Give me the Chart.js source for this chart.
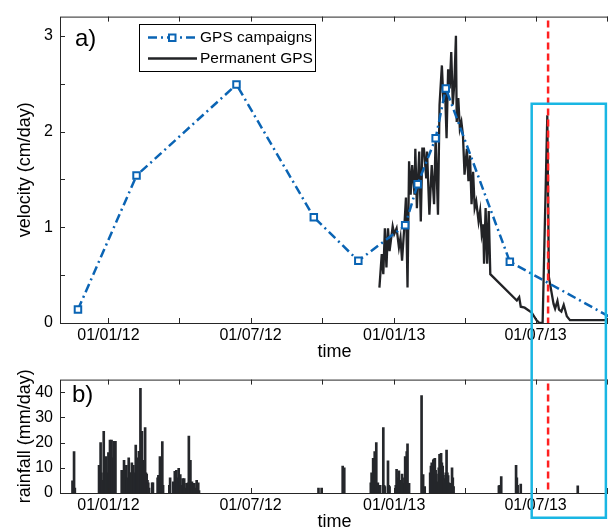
<!DOCTYPE html>
<html>
<head>
<meta charset="utf-8">
<script src="https://cdn.jsdelivr.net/npm/chart.js@4.4.1/dist/chart.umd.min.js"></script>
<style>
  html, body { margin: 0; padding: 0; background: #fff; overflow: hidden; }
  #wrap { position: relative; width: 608px; height: 531px; overflow: hidden; }
  canvas { position: absolute; left: 0; }
  #topChart { top: 0; }
  #rainChart { top: 363px; }
</style>
</head>
<body>
<div id="wrap">
  <canvas id="topChart" width="612" height="363"></canvas>
  <canvas id="rainChart" width="612" height="170"></canvas>
</div>
<script>
// all x values are days counted from 01/01/12
var xMin = -62
var xMax = 641
var xTickDays = [0, 91, 182, 274, 366, 456, 547, 639]
var xTickLabels = ['01/01/12', '', '01/07/12', '', '01/01/13', '', '01/07/13', '']
var velTicks = [0, 0.5, 1, 1.5, 2, 2.5, 3]
var rainTicks = [0, 10, 20, 30, 40]

// GPS campaigns
var campDays = [-39, 36, 164, 263, 320, 380, 396, 419, 432, 514, 645]
var campVel = [0.14, 1.54, 2.49, 1.105, 0.65, 1.02, 1.45, 1.93, 2.45, 0.64, 0.05]

// Permanent GPS
var permDays = [347, 350, 352, 354, 356, 358, 360, 364, 366, 369,
  372, 374, 376, 379, 381, 383, 385, 387, 389, 392,
  393, 395, 398, 400, 402, 404, 407, 408, 411, 414,
  417, 419, 422, 424, 427, 429, 431, 433, 435, 437,
  439, 441, 443, 445, 446, 448, 450, 452, 454, 456,
  459, 461, 463, 465, 467, 469, 471, 474, 476, 478,
  480, 481, 483, 485, 487, 489, 523, 526, 528, 533,
  542, 548, 552, 556, 562, 564, 567, 570, 572, 575,
  577, 580, 583, 587, 591, 641]
var permVel = [0.37, 0.72, 0.51, 0.99, 0.58, 0.99, 0.75, 1.01, 0.93, 0.99,
  0.79, 0.89, 0.65, 1.02, 1.31, 0.37, 1.69, 1.34, 1.65, 1.34,
  1.82, 1.20, 1.79, 1.06, 1.82, 1.82, 1.51, 1.79, 1.13, 1.65,
  1.24, 1.93, 1.13, 2.28, 2.69, 2.31, 2.45, 1.93, 2.65, 2.45,
  2.83, 2.28, 2.51, 3.00, 2.10, 2.35, 2.03, 2.10, 1.96, 1.55,
  1.82, 1.48, 1.75, 1.24, 1.58, 1.20, 1.27, 1.06, 1.17, 0.93,
  1.03, 0.62, 1.20, 0.62, 1.17, 0.51, 0.235, 0.27, 0.17, 0.16,
  0.11, 0.03, 0, 0, 2.17, 0.48, 0.34, 0.20, 0.15, 0.23,
  0.14, 0.12, 0.19, 0.07, 0.03, 0.03]

// daily rainfall
var rainDays = [-46, -44, -43,
  -12, -10, -9, -8, -6, -5, -3, -1, 0, 2, 3, 4, 5, 7, 9,
  17, 18, 20, 21, 23, 24, 26, 27, 29, 30, 32, 33, 35, 36, 37, 38, 39, 41, 42, 43, 44, 45, 47, 48, 49, 50, 51, 52,
  56, 57, 63, 64, 66, 67, 69, 70,
  78, 79, 83, 85, 86, 87, 88, 90, 91, 92, 93, 95, 96, 97, 98, 100, 102, 103, 105, 106, 107, 110, 111, 113, 115, 116,
  269, 273, 300, 302,
  336, 337, 339, 340, 341, 342, 343, 344, 345, 348, 352, 353, 354, 358, 359, 360,
  368, 369, 370, 372, 373, 374, 376, 378, 379, 380, 381, 382, 383, 385,
  401, 403, 405,
  412, 413, 414, 416, 417, 418, 419, 420, 422, 423, 424, 426, 427, 428, 429, 430, 431, 432, 433, 434, 435, 436, 437, 440, 441, 442,
  500, 501, 503, 522, 523, 524, 528, 601]
var rainMm = [4.8, 16.4, 2,
  11, 20, 8, 5, 24.5, 10, 14.5, 8, 16, 21, 15, 21, 14, 20.5, 20.5,
  9, 6, 13, 9, 11, 6, 14, 8, 8, 12, 11, 8, 19, 9, 14, 10, 16.5, 41.5, 12, 24.5, 9, 13, 26, 8, 7.5, 5, 4, 2,
  4, 4, 6, 7, 14.5, 5, 20.4, 3,
  3, 6, 4.4, 8.6, 5, 9, 6, 9.8, 4, 7.3, 3, 5.7, 3, 5.7, 2, 3.8, 4, 22.6, 13, 4, 4.4, 3.8, 2, 5, 4, 1,
  2, 2, 10.7, 10,
  4, 8, 13.8, 6, 16.4, 5, 20, 3, 4, 3, 26, 3, 2.5, 12.8, 3, 2.5,
  3, 9.4, 6, 8.8, 4, 5, 7.5, 3.8, 6, 14.5, 8, 16.4, 19.5, 3.8,
  38.7, 7.3, 2.5,
  8, 10.7, 12, 13.2, 13.5, 13.8, 9, 7.5, 4.4, 10, 15.3, 15.7, 12, 10.7, 7, 5.7, 3.8, 8, 17, 8, 6.9, 4, 3.8, 10, 6, 2.5,
  2.8, 3, 6.5, 11, 6, 3, 3.5, 2.8]

// event marker and highlighted window
var eventDay = 563
var boxFromDay = 542
var boxToDay = 637
var boxTopVel = 2.29
var boxBottomRain = -9.8

var blue = '#0a64b4'
var black = '#222326'
var axisColor = '#262626'
var cyan = '#19b6e3'

Chart.defaults.font.family = '"Liberation Sans", Arial, Helvetica, sans-serif'
Chart.defaults.color = '#000'

function timeAxis() {
  return {
    type: 'linear',
    min: xMin,
    max: xMax,
    offset: false,
    grid: { display: false, drawTicks: false },
    border: { display: false },
    afterBuildTicks: s => { s.ticks = xTickDays.map(v => ({ value: v })) },
    afterFit: s => { s.height = 40 },
    ticks: {
      autoSkip: false, maxRotation: 0, padding: 3, font: { size: 16 },
      callback: (v, i) => xTickLabels[i]
    },
    title: { display: true, text: 'time', font: { size: 18 }, padding: 0 }
  }
}

function drawFrame(chart, yTicks) {
  var ctx = chart.ctx
  var a = chart.chartArea
  var xs = chart.scales.x, ys = chart.scales.y
  ctx.save()
  ctx.strokeStyle = axisColor
  ctx.lineWidth = 1
  ctx.strokeRect(a.left + 0.5, a.top + 0.5, a.right - a.left, a.bottom - a.top)
  ctx.beginPath()
  xTickDays.forEach(d => {
    var x = Math.round(xs.getPixelForValue(d)) + 0.5
    ctx.moveTo(x, a.bottom); ctx.lineTo(x, a.bottom - 5)
    ctx.moveTo(x, a.top); ctx.lineTo(x, a.top + 5)
  })
  yTicks.forEach(v => {
    var y = Math.round(ys.getPixelForValue(v)) + 0.5
    ctx.moveTo(a.left, y); ctx.lineTo(a.left + 5, y)
  })
  ctx.stroke()
  ctx.restore()
}

function drawEvent(chart) {
  var ctx = chart.ctx
  var a = chart.chartArea
  var x = chart.scales.x.getPixelForValue(eventDay)
  ctx.save()
  ctx.strokeStyle = '#ff2020'
  ctx.lineWidth = 2.5
  ctx.setLineDash([7, 4])
  ctx.beginPath()
  ctx.moveTo(x, a.top + 4)
  ctx.lineTo(x, a.bottom)
  ctx.stroke()
  ctx.restore()
}

function panelLabel(chart, text, dx, dy) {
  var ctx = chart.ctx
  ctx.save()
  ctx.font = '24px "Liberation Sans", Arial, sans-serif'
  ctx.fillStyle = '#000'
  ctx.textBaseline = 'alphabetic'
  ctx.fillText(text, chart.chartArea.left + dx, chart.chartArea.top + dy)
  ctx.restore()
}

function drawLegend(chart) {
  var ctx = chart.ctx
  ctx.save()
  ctx.fillStyle = '#fff'
  ctx.fillRect(139.5, 24.5, 176, 47)
  ctx.strokeStyle = '#000'
  ctx.lineWidth = 1
  ctx.strokeRect(139.5, 24.5, 176, 47)
  // campaigns sample
  ctx.strokeStyle = blue
  ctx.lineWidth = 2.5
  ctx.setLineDash([9, 4, 2, 4])
  ctx.beginPath(); ctx.moveTo(148, 37.5); ctx.lineTo(197, 37.5); ctx.stroke()
  ctx.setLineDash([])
  ctx.lineWidth = 2
  ctx.fillStyle = '#fff'
  ctx.fillRect(169, 34.5, 6.5, 6.5)
  ctx.strokeRect(169, 34.5, 6.5, 6.5)
  // permanent sample
  ctx.strokeStyle = black
  ctx.lineWidth = 2.3
  ctx.beginPath(); ctx.moveTo(148, 58.5); ctx.lineTo(197, 58.5); ctx.stroke()
  ctx.fillStyle = '#000'
  ctx.font = '15.5px "Liberation Sans", Arial, sans-serif'
  ctx.textBaseline = 'middle'
  ctx.fillText('GPS campaigns', 200, 37.5)
  ctx.fillText('Permanent GPS', 200, 58.5)
  ctx.restore()
}

new Chart(document.getElementById('topChart'), {
  type: 'line',
  data: {
    datasets: [{
      label: 'GPS campaigns',
      data: campDays.map((d, i) => ({ x: d, y: campVel[i] })),
      borderColor: blue,
      borderWidth: 2.5,
      borderDash: [9, 4, 2, 4],
      pointStyle: 'rect',
      pointRadius: 4.6,
      pointBorderWidth: 2,
      pointBorderColor: blue,
      pointBackgroundColor: '#fff',
      tension: 0,
      fill: false
    },
    {
      label: 'Permanent GPS',
      data: permDays.map((d, i) => ({ x: d, y: permVel[i] })),
      borderColor: black,
      borderWidth: 2.3,
      pointRadius: 0,
      tension: 0,
      fill: false
    }]
  },
  options: {
    responsive: false,
    animation: false,
    layout: { autoPadding: false, padding: { top: 14, right: 3, left: 0, bottom: 0 } },
    plugins: { legend: { display: false }, tooltip: { enabled: false } },
    scales: {
      x: timeAxis(),
      y: {
        min: 0, max: 3.2,
        grid: { display: false, drawTicks: false },
        border: { display: false },
        afterBuildTicks: s => { s.ticks = velTicks.map(v => ({ value: v })) },
        afterFit: s => { s.width = 60 },
        ticks: { padding: 7, font: { size: 16 }, callback: v => Number.isInteger(v) ? v : '' },
        title: { display: true, text: 'velocity (cm/day)', font: { size: 18 }, padding: { top: 14, bottom: 0 } }
      }
    }
  },
  plugins: [{
    id: 'extrasTop',
    afterDraw: chart => {
      drawFrame(chart, velTicks)
      drawEvent(chart)
      var ctx = chart.ctx
      var xs = chart.scales.x
      var l = xs.getPixelForValue(boxFromDay), r = xs.getPixelForValue(boxToDay)
      var t = chart.scales.y.getPixelForValue(boxTopVel)
      ctx.save()
      ctx.strokeStyle = cyan
      ctx.lineWidth = 2.5
      ctx.beginPath()
      ctx.moveTo(l, chart.height); ctx.lineTo(l, t); ctx.lineTo(r, t); ctx.lineTo(r, chart.height)
      ctx.stroke()
      ctx.restore()
      drawLegend(chart)
      panelLabel(chart, 'a)', 15, 29)
    }
  }]
})

new Chart(document.getElementById('rainChart'), {
  type: 'bar',
  data: {
    datasets: [{
      label: 'rainfall',
      data: rainDays.map((d, i) => ({ x: d, y: rainMm[i] })),
      backgroundColor: '#25272b',
      borderWidth: 0,
      barThickness: 2
    }]
  },
  options: {
    responsive: false,
    animation: false,
    layout: { autoPadding: false, padding: { top: 10, right: 3, left: 0, bottom: 0 } },
    plugins: { legend: { display: false }, tooltip: { enabled: false } },
    scales: {
      x: timeAxis(),
      y: {
        min: 0, max: 45,
        grid: { display: false, drawTicks: false },
        border: { display: false },
        afterBuildTicks: s => { s.ticks = rainTicks.map(v => ({ value: v })) },
        afterFit: s => { s.width = 60 },
        ticks: { padding: 7, font: { size: 16 } },
        title: { display: true, text: 'rainfall (mm/day)', font: { size: 18 }, padding: { top: 14, bottom: 0 } }
      }
    }
  },
  plugins: [{
    id: 'extrasRain',
    afterDraw: chart => {
      drawFrame(chart, rainTicks)
      drawEvent(chart)
      var ctx = chart.ctx
      var xs = chart.scales.x
      var l = xs.getPixelForValue(boxFromDay), r = xs.getPixelForValue(boxToDay)
      var b = chart.scales.y.getPixelForValue(boxBottomRain)
      ctx.save()
      ctx.strokeStyle = cyan
      ctx.lineWidth = 2.5
      ctx.beginPath()
      ctx.moveTo(l, 0); ctx.lineTo(l, b); ctx.lineTo(r, b); ctx.lineTo(r, 0)
      ctx.stroke()
      ctx.restore()
      panelLabel(chart, 'b)', 12, 22)
    }
  }]
})
</script>
</body>
</html>
